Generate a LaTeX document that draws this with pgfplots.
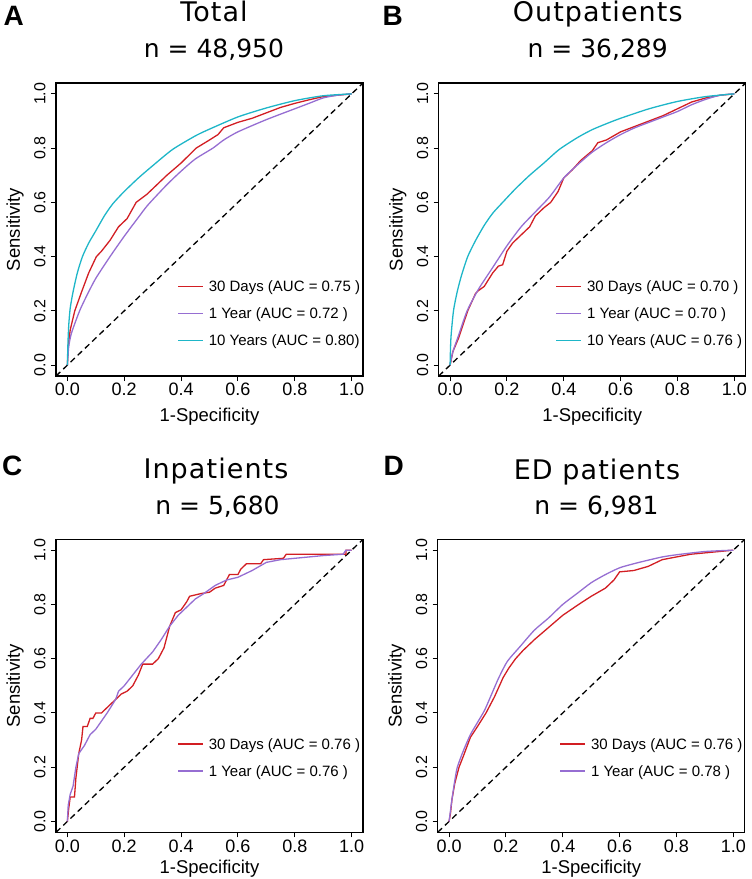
\documentclass[border=0pt]{standalone}
\usepackage{fontspec}
\setmainfont{Liberation Sans}
\newfontfamily\titlefont[LetterSpace=4]{DejaVu Sans}
\newfontfamily\nfont{DejaVu Sans}
\usepackage{pgfplots}
\pgfplotsset{compat=1.18}
\definecolor{rocred}{RGB}{210,30,35}
\definecolor{rocpurple}{RGB}{150,110,210}
\definecolor{roccyan}{RGB}{30,182,200}
\pgfplotsset{
  rocax/.style={
    scale only axis, width=307pt, height=293pt,
    xmin=-0.04, xmax=1.04, ymin=-0.04, ymax=1.04,
    xtick={0,0.2,0.4,0.6,0.8,1}, xticklabels={0.0,0.2,0.4,0.6,0.8,1.0},
    ytick={0,0.2,0.4,0.6,0.8,1}, yticklabels={0.0,0.2,0.4,0.6,0.8,1.0},
    tick align=outside, xtick pos=bottom, ytick pos=left,
    major tick length=5pt,
    every tick/.style={black, line width=0.9pt},
    axis line style={line width=1.2pt},
    xticklabel style={font=\fontsize{18}{18}\selectfont, inner sep=0pt, anchor=north, yshift=-2pt},
    yticklabel style={font=\fontsize{16}{16}\selectfont, inner sep=0pt, xshift=-5.25pt, rotate=90, anchor=south},
    ylabel={Sensitivity}, xlabel={1-Specificity},
    label style={font=\fontsize{18.5}{18.5}\selectfont},
    ylabel style={at={(axis description cs:-0.1335,0.5)}, anchor=center},
    xlabel style={at={(axis description cs:0.5,-0.139)}, anchor=center},
    legend cell align=left,
    legend image code/.code={\draw[#1] (0pt,0pt) -- (25pt,0pt);},
    legend style={draw=none, fill=none, inner sep=0pt, outer sep=0pt,
      row sep=0pt, column sep=5pt, anchor=north west,
      font=\fontsize{15}{15}\selectfont,
      nodes={inner sep=0pt, text height=19pt, text depth=8pt}},
  },
  rl/.style={rocred, line width=1.3pt},
  pl/.style={rocpurple, line width=1.3pt},
  cl/.style={roccyan, line width=1.3pt},
  dl/.style={black, line width=1.3pt, dash pattern=on 6pt off 4pt, forget plot},
}
\begin{document}
\begin{tikzpicture}[x=1pt,y=1pt]
\path[use as bounding box] (0,0) rectangle (752,-879);

% ---------- A ----------
\begin{axis}[rocax, at={(56pt,-376pt)}, anchor=south west,
  legend style={at={(axis cs:0.3874,0.3397)}}]
\addplot[dl] coordinates {(-0.04,-0.04) (1.04,1.04)};
\addplot[rl] coordinates {(0,0) (0.004,0.08) (0.01,0.13) (0.026,0.2) (0.05,0.27) (0.075,0.34) (0.102,0.40) (0.12,0.42) (0.15,0.46) (0.18,0.51) (0.21,0.54) (0.242,0.60) (0.28,0.63) (0.32,0.67) (0.35,0.70) (0.4,0.745) (0.453,0.80) (0.5,0.83) (0.53,0.85) (0.55,0.875) (0.6,0.895) (0.65,0.91) (0.7,0.93) (0.75,0.95) (0.8,0.965) (0.85,0.978) (0.9,0.99) (1,1)};
\addlegendentry{30 Days (AUC = 0.75 )}
\addplot[pl, smooth, tension=0.4] coordinates {(0,0) (0.005,0.07) (0.015,0.12) (0.043,0.2) (0.07,0.26) (0.1,0.32) (0.15,0.40) (0.2,0.475) (0.25,0.545) (0.283,0.59) (0.35,0.665) (0.4,0.715) (0.45,0.76) (0.512,0.80) (0.55,0.83) (0.6,0.86) (0.7,0.905) (0.8,0.945) (0.85,0.965) (0.9,0.985) (0.95,0.995) (1,1)};
\addlegendentry{1 Year (AUC = 0.72 )}
\addplot[cl, smooth, tension=0.4] coordinates {(0,0) (0.002,0.08) (0.005,0.15) (0.01,0.21) (0.02,0.27) (0.035,0.34) (0.053,0.40) (0.075,0.45) (0.1,0.495) (0.13,0.55) (0.16,0.595) (0.2,0.64) (0.25,0.69) (0.3,0.735) (0.37,0.795) (0.45,0.845) (0.5,0.87) (0.6,0.915) (0.7,0.948) (0.8,0.975) (0.9,0.993) (1,1)};
\addlegendentry{10 Years (AUC = 0.80)}
\end{axis}

% ---------- B ----------
\begin{axis}[rocax, at={(438.7pt,-376pt)}, anchor=south west,
  legend style={at={(axis cs:0.372,0.3397)}}]
\addplot[dl] coordinates {(-0.04,-0.04) (1.04,1.04)};
\addplot[rl] coordinates {(0,0) (0.01,0.05) (0.03,0.1) (0.062,0.2) (0.09,0.265) (0.1,0.275) (0.12,0.29) (0.15,0.34) (0.17,0.365) (0.185,0.37) (0.2,0.42) (0.22,0.45) (0.25,0.48) (0.28,0.51) (0.3,0.55) (0.33,0.58) (0.354,0.60) (0.38,0.64) (0.4,0.69) (0.43,0.72) (0.46,0.755) (0.5,0.79) (0.52,0.82) (0.55,0.83) (0.6,0.86) (0.65,0.88) (0.7,0.9) (0.75,0.92) (0.8,0.945) (0.85,0.97) (0.9,0.985) (0.95,0.995) (1,1)};
\addlegendentry{30 Days (AUC = 0.70 )}
\addplot[pl, smooth, tension=0.4] coordinates {(0,0) (0.01,0.05) (0.03,0.11) (0.06,0.2) (0.1,0.28) (0.15,0.36) (0.2,0.44) (0.25,0.51) (0.3,0.565) (0.35,0.62) (0.4,0.69) (0.45,0.74) (0.5,0.785) (0.55,0.82) (0.6,0.85) (0.65,0.875) (0.7,0.895) (0.75,0.915) (0.8,0.935) (0.85,0.96) (0.9,0.98) (0.95,0.995) (1,1)};
\addlegendentry{1 Year (AUC = 0.70 )}
\addplot[cl, smooth, tension=0.4] coordinates {(0,0) (0.003,0.1) (0.012,0.2) (0.025,0.27) (0.04,0.33) (0.062,0.40) (0.09,0.46) (0.12,0.515) (0.15,0.56) (0.185,0.60) (0.23,0.65) (0.28,0.70) (0.33,0.745) (0.384,0.795) (0.45,0.84) (0.5,0.868) (0.55,0.89) (0.6,0.91) (0.7,0.945) (0.8,0.972) (0.9,0.99) (1,1)};
\addlegendentry{10 Years (AUC = 0.76 )}
\end{axis}

% ---------- C ----------
\begin{axis}[rocax, at={(56pt,-832.3pt)}, anchor=south west,
  xlabel style={at={(axis description cs:0.5,-0.123)}},
  legend style={at={(axis cs:0.3874,0.3357)}}]
\addplot[dl] coordinates {(-0.04,-0.04) (1.04,1.04)};
\addplot[rl] coordinates {(0,0) (0.005,0.05) (0.01,0.09) (0.025,0.09) (0.03,0.16) (0.04,0.25) (0.05,0.30) (0.055,0.35) (0.07,0.35) (0.08,0.38) (0.09,0.38) (0.1,0.40) (0.12,0.40) (0.13,0.41) (0.15,0.43) (0.17,0.45) (0.19,0.47) (0.21,0.48) (0.23,0.50) (0.25,0.54) (0.265,0.58) (0.3,0.58) (0.31,0.59) (0.32,0.60) (0.34,0.64) (0.35,0.68) (0.36,0.72) (0.38,0.77) (0.4,0.78) (0.42,0.81) (0.43,0.83) (0.47,0.84) (0.5,0.845) (0.52,0.86) (0.55,0.87) (0.57,0.91) (0.6,0.91) (0.61,0.93) (0.63,0.95) (0.68,0.95) (0.69,0.965) (0.76,0.97) (0.77,0.985) (0.98,0.985) (0.98,1) (1,1)};
\addlegendentry{30 Days (AUC = 0.76 )}
\addplot[pl] coordinates {(0,0) (0.003,0.06) (0.01,0.1) (0.02,0.13) (0.03,0.2) (0.04,0.25) (0.06,0.28) (0.08,0.32) (0.1,0.34) (0.12,0.37) (0.14,0.40) (0.17,0.45) (0.18,0.48) (0.2,0.5) (0.23,0.54) (0.26,0.58) (0.3,0.625) (0.33,0.67) (0.36,0.72) (0.39,0.76) (0.42,0.79) (0.45,0.82) (0.48,0.84) (0.52,0.87) (0.56,0.89) (0.6,0.9) (0.65,0.925) (0.7,0.955) (0.75,0.965) (0.8,0.97) (0.9,0.98) (0.97,0.985) (0.98,1) (1,1)};
\addlegendentry{1 Year (AUC = 0.76 )}
\end{axis}

% ---------- D ----------
\begin{axis}[rocax, at={(437.7pt,-832.3pt)}, anchor=south west,
  xlabel style={at={(axis description cs:0.5,-0.123)}},
  legend style={at={(axis cs:0.3895,0.3357)}}]
\addplot[dl] coordinates {(-0.04,-0.04) (1.04,1.04)};
\addplot[rl] coordinates {(0,0) (0.005,0.03) (0.01,0.08) (0.02,0.14) (0.035,0.2) (0.05,0.24) (0.075,0.31) (0.1,0.35) (0.13,0.40) (0.16,0.46) (0.19,0.53) (0.21,0.565) (0.234,0.6) (0.26,0.63) (0.3,0.67) (0.35,0.715) (0.4,0.76) (0.456,0.80) (0.5,0.83) (0.55,0.86) (0.58,0.89) (0.6,0.92) (0.65,0.925) (0.7,0.94) (0.75,0.965) (0.8,0.975) (0.85,0.985) (0.9,0.99) (0.95,0.995) (1,1)};
\addlegendentry{30 Days (AUC = 0.76 )}
\addplot[pl, smooth, tension=0.4] coordinates {(0,0) (0.005,0.04) (0.01,0.08) (0.02,0.15) (0.029,0.2) (0.05,0.26) (0.075,0.32) (0.1,0.365) (0.125,0.41) (0.15,0.47) (0.175,0.53) (0.205,0.59) (0.25,0.645) (0.3,0.705) (0.35,0.75) (0.40,0.80) (0.45,0.84) (0.5,0.88) (0.55,0.91) (0.6,0.935) (0.65,0.95) (0.7,0.963) (0.75,0.975) (0.8,0.983) (0.9,0.995) (1,1)};
\addlegendentry{1 Year (AUC = 0.78 )}
\end{axis}

% ---------- titles ----------
\tikzset{ttl/.style={anchor=base, inner sep=0pt, font=\titlefont\fontsize{27}{27}\selectfont},
         nn/.style={anchor=base, inner sep=0pt, font=\nfont\fontsize{25}{25}\selectfont},
         lt/.style={anchor=base west, inner sep=0pt, font=\fontsize{28}{28}\selectfont\bfseries}}
\node[ttl] at (214,-21.7) {Total};
\node[nn] at (214,-57.3) {n = 48,950};
\node[ttl] at (597.7,-21.7) {Outpatients};
\node[nn] at (597.7,-57.3) {n = 36,289};
\node[ttl] at (216,-478.3) {Inpatients};
\node[nn] at (217.5,-514) {n = 5,680};
\node[ttl] at (597,-479.3) {ED patients};
\node[nn] at (596.5,-514) {n = 6,981};
\node[lt] at (3.3,-25) {A};
\node[lt] at (382.3,-25) {B};
\node[lt] at (1.8,-475) {C};
\node[lt] at (383.3,-475) {D};
\end{tikzpicture}
\end{document}
